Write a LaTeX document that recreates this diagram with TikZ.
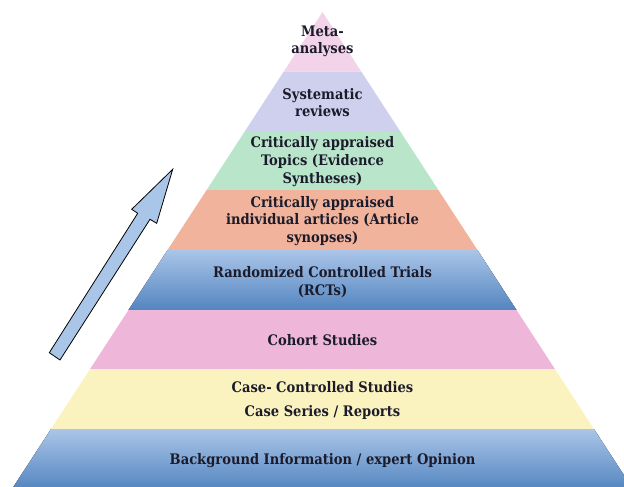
\documentclass[tikz,border=0pt]{standalone}
\usepackage{fontspec}
\setmainfont{DejaVu Serif Condensed}
\begin{document}
\begin{tikzpicture}[x=0.75pt,y=-0.75pt,
  lbl/.style={font=\bfseries\fontsize{10.9}{13.2}\selectfont, text=labeltext, align=center, inner sep=0pt},
  band/.style={draw=none}]
\definecolor{labeltext}{HTML}{1B1B2B}
\definecolor{metapink}{HTML}{F3D3EA}
\definecolor{lavender}{HTML}{CFCFEE}
\definecolor{mint}{HTML}{B9E6CB}
\definecolor{salmon}{HTML}{F1B39B}
\definecolor{bluetop}{HTML}{AAC5E8}
\definecolor{bluebot}{HTML}{5385C0}
\definecolor{rose}{HTML}{EEB7D9}
\definecolor{cream}{HTML}{FBF3BF}
\definecolor{arrowfill}{HTML}{A9C6E9}

\useasboundingbox (0,0) rectangle (624,486);
\clip (0,0) rectangle (624,486);

% pyramid: apex (322.5,12), half-width grows 0.651 per unit of depth
\def\apx{322.5}
\def\apy{12}
\def\sl{0.651}
\newcommand{\pyband}[3]{% top y, bottom y, fill options
  \fill[#3] ({\apx-\sl*(#1-\apy)},#1) -- ({\apx+\sl*(#1-\apy)},#1)
     -- ({\apx+\sl*(#2-\apy)},#2) -- ({\apx-\sl*(#2-\apy)},#2) -- cycle;}

\pyband{12}{71.5}{metapink}
\pyband{71.5}{132}{lavender}
\pyband{132}{190}{mint}
\pyband{190}{250}{salmon}
\pyband{250}{310}{top color=bluetop,bottom color=bluebot}
\pyband{310}{369}{rose}
\pyband{369}{429}{cream}
\pyband{429}{490}{top color=bluetop,bottom color=bluebot}

% level labels
\node[lbl] (meta) at (322.5,41.5) {Meta-\\analyses};
\node[lbl] (sysrev) at (322.5,102.5) {Systematic\\reviews};
\node[lbl] (cat) at (322.5,161.5) {Critically appraised\\Topics (Evidence\\Syntheses)};
\node[lbl] (caia) at (322.5,221) {Critically appraised\\individual articles (Article\\synopses)};
\node[lbl] (rct) at (322.5,282) {Randomized Controlled Trials\\(RCTs)};
\node[lbl] (cohort) at (322.5,340.5) {Cohort Studies};
\node[lbl, align=center] (case) at (322.5,400.5) {Case- Controlled Studies\\[5pt]Case Series / Reports};
\node[lbl] (bg) at (322.5,460.5) {Background Information / expert Opinion};

% block arrow pointing up the pyramid
\draw[fill=arrowfill, draw=black, line width=0.6pt, line join=miter]
  (49.3,352.7) -- (137.7,213.3) -- (131.7,209.3) -- (172.7,169.3)
  -- (156.7,223.3) -- (150,219.3) -- (60,360) -- cycle;
\end{tikzpicture}
\end{document}
